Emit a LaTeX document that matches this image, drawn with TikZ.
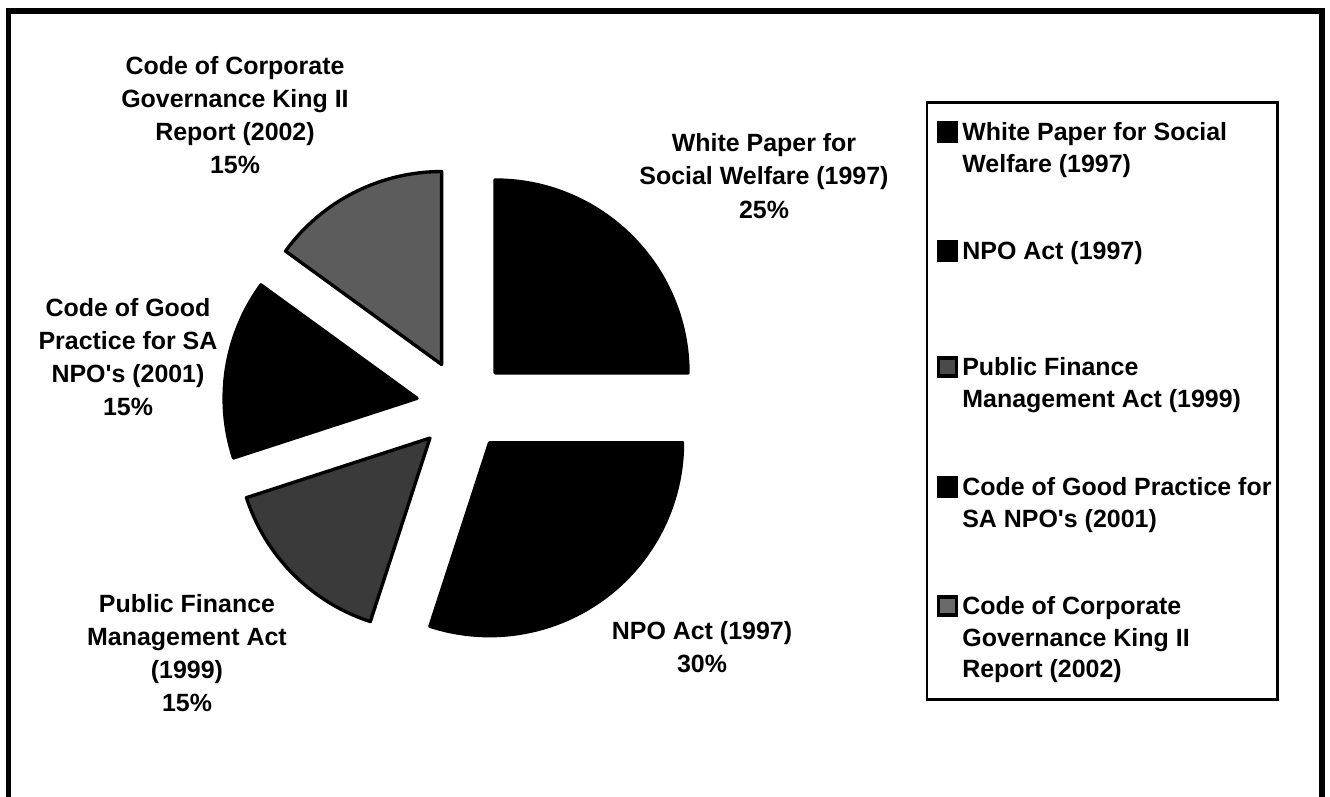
\documentclass[tikz,border=0pt]{standalone}
\usepackage{fontspec}
\setmainfont{Liberation Sans}
\usepackage{tikz}

\definecolor{grisoscuro}{HTML}{3A3A3A}
\definecolor{grismedio}{HTML}{5C5C5C}
\definecolor{grisley1}{HTML}{4A4A4A}
\definecolor{grisley2}{HTML}{6A6A6A}

\tikzset{
	marco/.style={draw=black, line width=3.2pt},
	porcion/.style={draw=black, line width=1.9pt, line join=round},
	etiqueta/.style={align=center, inner sep=0pt, font=\fontsize{14.2}{18.9}\selectfont\bfseries},
	textoley/.style={align=left, anchor=north west, inner sep=0pt, font=\fontsize{14.2}{17.9}\selectfont\bfseries},
	cuadro/.style={draw=black, line width=2.2pt, minimum size=0.36cm, inner sep=0pt},
}

\begin{document}
\begin{tikzpicture}[x=0.02cm, y=-0.02cm]
		\useasboundingbox (0,0) rectangle (1330,796);
		\clip (0,0) rectangle (1330,796);

		%Marco
		\draw[marco] (8.5,810) -- (8.5,11) -- (1322,11) -- (1322,810);
		\draw[black, line width=1.7pt] (927,102) rectangle (1277,699);

		%Porciones
		\begin{scope}[shift={(462.5,405.5)}, y=0.02cm]
			\filldraw[porcion, fill=black] (45:46) -- ++(90:193) arc[start angle=90, end angle=0, radius=193] -- cycle;
			\filldraw[porcion, fill=black] (-54:46) -- ++(0:193) arc[start angle=0, end angle=-108, radius=193] -- cycle;
			\filldraw[porcion, fill=grisoscuro] (-135:46) -- ++(-108:193) arc[start angle=-108, end angle=-162, radius=193] -- cycle;
			\filldraw[porcion, fill=black] (-189:46) -- ++(-162:193) arc[start angle=-162, end angle=-216, radius=193] -- cycle;
			\filldraw[porcion, fill=grismedio] (-243:46) -- ++(-216:193) arc[start angle=-216, end angle=-270, radius=193] -- cycle;
		\end{scope}

		%Etiquetas
		\node [etiqueta] (etiq0) at (764,176) {White Paper for\\Social Welfare (1997)\\25\%};
		\node [etiqueta] (etiq1) at (702,647) {NPO Act (1997)\\30\%};
		\node [etiqueta] (etiq2) at (187,653) {Public Finance\\Management Act\\(1999)\\15\%};
		\node [etiqueta] (etiq3) at (128,357) {Code of Good\\Practice for SA\\NPO\textquotesingle s (2001)\\15\%};
		\node [etiqueta] (etiq4) at (235,115) {Code of Corporate\\Governance King II\\Report (2002)\\15\%};

		%Leyenda
		\node [cuadro, fill=black] (cuad0) at (947.5,132) {};
		\node [cuadro, fill=black] (cuad1) at (947.5,251) {};
		\node [cuadro, fill=grisley1] (cuad2) at (947.5,367) {};
		\node [cuadro, fill=black] (cuad3) at (947.5,487) {};
		\node [cuadro, fill=grisley2] (cuad4) at (947.5,606) {};

		\node [textoley] (ley0) at (962,122.5) {White Paper for Social\\Welfare (1997)};
		\node [textoley] (ley1) at (962,241.5) {NPO Act (1997)};
		\node [textoley] (ley2) at (962,357.5) {Public Finance\\Management Act (1999)};
		\node [textoley] (ley3) at (962,477.5) {Code of Good Practice for\\SA NPO\textquotesingle s (2001)};
		\node [textoley] (ley4) at (962,596.5) {Code of Corporate\\Governance King II\\Report (2002)};
\end{tikzpicture}
\end{document}
